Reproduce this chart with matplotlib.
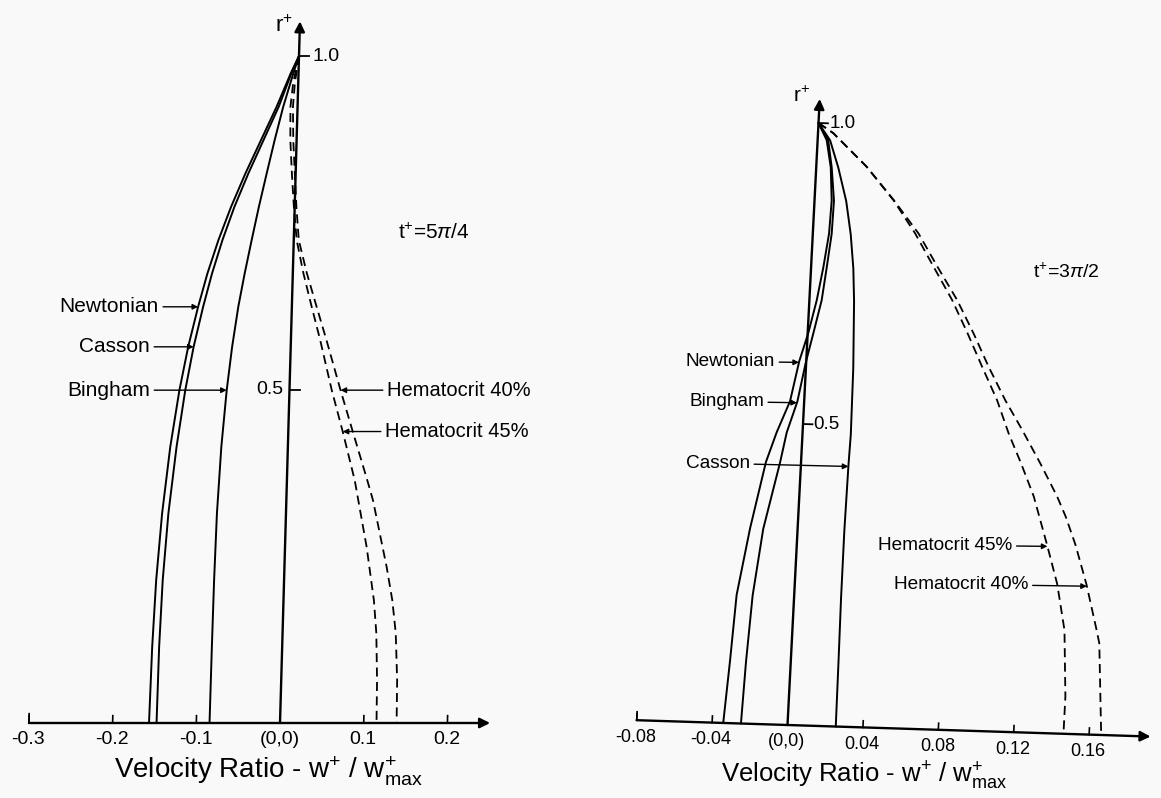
import numpy as np
import matplotlib.pyplot as plt
from matplotlib.transforms import Affine2D

plt.rcParams['font.family'] = ['Liberation Sans', 'DejaVu Sans']
plt.rcParams['mathtext.fontset'] = 'custom'
plt.rcParams['mathtext.rm'] = 'Liberation Sans'
plt.rcParams['mathtext.it'] = 'Liberation Sans:italic'
plt.rcParams['mathtext.bf'] = 'Liberation Sans:bold'

# ---- left panel, t+ = 5pi/4 : r+ against w+/w+max ----
r_newt_L = [1.0, 0.974, 0.924, 0.874, 0.824, 0.774, 0.724, 0.674, 0.624, 0.564, 0.499, 0.414, 0.314, 0.214, 0.114, 0.0]
w_newt_L = [0.0, -0.0093, -0.0250, -0.0425, -0.0600, -0.0760, -0.0900, -0.1020, -0.1120, -0.1225, -0.1315, -0.1405, -0.1480, -0.1528, -0.1553, -0.1565]
r_cass_L = [1.0, 0.974, 0.924, 0.874, 0.824, 0.774, 0.724, 0.674, 0.624, 0.564, 0.499, 0.414, 0.314, 0.214, 0.114, 0.0]
w_cass_L = [0.0, -0.0085, -0.0225, -0.0395, -0.0565, -0.0720, -0.0852, -0.0965, -0.1060, -0.1160, -0.1245, -0.1330, -0.1405, -0.1450, -0.1470, -0.1475]
r_bing_L = [1.0, 0.974, 0.924, 0.874, 0.824, 0.774, 0.724, 0.674, 0.624, 0.564, 0.499, 0.414, 0.314, 0.214, 0.114, 0.0]
w_bing_L = [0.0, -0.0062, -0.0171, -0.0262, -0.0346, -0.0428, -0.0503, -0.0575, -0.0640, -0.0700, -0.0750, -0.0795, -0.0825, -0.0836, -0.0840, -0.0842]
r_h45_L = [1.0, 0.96, 0.924, 0.874, 0.824, 0.774, 0.724, 0.675, 0.624, 0.574, 0.499, 0.437, 0.364, 0.264, 0.184, 0.135, 0.064, 0.0]
w_h45_L = [0.0, -0.0060, -0.0085, -0.0075, -0.0045, -0.0010, 0.0035, 0.0125, 0.0237, 0.0350, 0.0505, 0.0650, 0.0810, 0.0975, 0.1080, 0.1120, 0.1145, 0.1153]
r_h40_L = [1.0, 0.96, 0.924, 0.874, 0.824, 0.774, 0.724, 0.675, 0.624, 0.574, 0.499, 0.437, 0.364, 0.334, 0.234, 0.184, 0.135, 0.064, 0.0]
w_h40_L = [0.0, -0.0040, -0.0055, -0.0040, -0.0010, 0.0020, 0.0060, 0.0166, 0.0296, 0.0425, 0.0610, 0.0770, 0.0960, 0.1035, 0.1221, 0.1300, 0.1352, 0.1385, 0.1393]
xticks_L = [-0.3, -0.2, -0.1, 0.1, 0.2]
xlabels_L = ['-0.3', '-0.2', '-0.1', '0.1', '0.2']

# ---- right panel, t+ = 3pi/2 ----
r_newt_R = [1.0, 0.972, 0.927, 0.872, 0.817, 0.761, 0.706, 0.651, 0.604, 0.537, 0.485, 0.435, 0.324, 0.213, 0.103, 0.0]
w_newt_R = [0.0, 0.0048, 0.0077, 0.0091, 0.0086, 0.0065, 0.0039, 0.0003, -0.0037, -0.0075, -0.0137, -0.0186, -0.0252, -0.0305, -0.0322, -0.0341]
r_bing_R = [1.0, 0.972, 0.927, 0.872, 0.817, 0.761, 0.706, 0.651, 0.604, 0.537, 0.485, 0.435, 0.324, 0.213, 0.103, 0.0]
w_bing_R = [0.0, 0.0056, 0.0082, 0.0103, 0.0100, 0.0083, 0.0065, 0.0030, -0.0001, -0.0036, -0.0084, -0.0111, -0.0182, -0.0220, -0.0237, -0.0247]
r_cass_R = [1.0, 0.972, 0.927, 0.872, 0.817, 0.761, 0.706, 0.595, 0.485, 0.435, 0.324, 0.213, 0.103, 0.0]
w_cass_R = [0.0, 0.0066, 0.0117, 0.0168, 0.0201, 0.0224, 0.0237, 0.0251, 0.0256, 0.0252, 0.0248, 0.0249, 0.0253, 0.0256]
r_h45_R = [1.0, 0.984, 0.930, 0.876, 0.822, 0.768, 0.714, 0.659, 0.605, 0.550, 0.495, 0.446, 0.392, 0.312, 0.248, 0.172, 0.062, 0.0]
w_h45_R = [0.0, 0.0081, 0.0267, 0.0418, 0.0542, 0.0648, 0.0755, 0.0847, 0.0932, 0.1021, 0.1092, 0.1166, 0.1242, 0.1326, 0.1390, 0.1441, 0.1464, 0.1464]
r_h40_R = [1.0, 0.984, 0.930, 0.876, 0.822, 0.768, 0.714, 0.659, 0.605, 0.550, 0.502, 0.447, 0.393, 0.360, 0.314, 0.249, 0.174, 0.152, 0.0]
w_h40_R = [0.0, 0.0081, 0.0267, 0.0420, 0.0560, 0.0669, 0.0782, 0.0879, 0.0967, 0.1065, 0.1162, 0.1268, 0.1366, 0.1417, 0.1476, 0.1545, 0.1611, 0.1629, 0.1664]
xticks_R = [-0.08, -0.04, 0.04, 0.08, 0.12, 0.16]
xlabels_R = ['-0.08', '-0.04', '0.04', '0.08', '0.12', '0.16']

xlabel_txt = r'Velocity Ratio - w$^{+}$ / w$^{+}_{\rm max}$'
solid = dict(color='k', lw=1.4, ls='-', solid_capstyle='round', solid_joinstyle='round')
dashed = dict(color='k', lw=1.3, ls=(0, (5, 3)))


def curve_at(r, r_arr, w_arr):
    return np.interp(r, r_arr[::-1], w_arr[::-1])


def label(ax, T, txt, r, w_txt, r_arr, w_arr, fs):
    tip = curve_at(r, r_arr, w_arr)
    ha = 'right' if w_txt < tip else 'left'
    ax.annotate(txt, xy=(tip, r), xycoords=T, xytext=(w_txt, r), textcoords=T,
                ha=ha, va='center', fontsize=fs,
                arrowprops=dict(arrowstyle='-|>', color='k', lw=1.0,
                                mutation_scale=8, shrinkA=1, shrinkB=0))


def axes_frame(ax, T, xmin, xmax, rtop, xticks, xlabels, dx_tick, dr_tick, fs_tick, r_lab):
    arrow = dict(arrowstyle='-|>', color='k', lw=1.7, mutation_scale=15, shrinkA=0, shrinkB=0)
    ax.annotate('', xy=(xmax, 0), xytext=(xmin, 0), xycoords=T, textcoords=T, arrowprops=arrow)
    ax.annotate('', xy=(0, rtop), xytext=(0, 0), xycoords=T, textcoords=T, arrowprops=arrow)
    for xt, xl in zip(xticks, xlabels):
        ax.plot([xt, xt], [0, dr_tick], transform=T, color='k', lw=1.2)
        ax.text(xt, r_lab, xl, transform=T, ha='center', va='center', fontsize=fs_tick)
    ax.text(0, r_lab, '(0,0)', transform=T, ha='center', va='center', fontsize=fs_tick)
    for rt in [0.5, 1.0]:
        ax.plot([0, dx_tick], [rt, rt], transform=T, color='k', lw=1.3)


fig = plt.figure(figsize=(11.61, 7.98), dpi=100)
fig.patch.set_facecolor('#f9f9f9')

# ---------------- left ----------------
axL = fig.add_axes([0, 0, 580 / 1161, 1])
axL.set_xlim(-0.33453, 0.35842)
axL.set_ylim(-0.11244, 1.08396)
axL.axis('off')
TL = Affine2D(np.array([[1, 0.0227, 0], [0, 1, 0], [0, 0, 1]])) + axL.transData

axL.plot(w_newt_L, r_newt_L, transform=TL, **solid)
axL.plot(w_cass_L, r_cass_L, transform=TL, **solid)
axL.plot(w_bing_L, r_bing_L, transform=TL, **solid)
axL.plot(w_h45_L, r_h45_L, transform=TL, **dashed)
axL.plot(w_h40_L, r_h40_L, transform=TL, **dashed)

axes_frame(axL, TL, -0.3, 0.251, 1.052, xticks_L, xlabels_L, 0.012, 0.011, 14, -0.025)
axL.plot([-0.3, -0.3], [0, 0.014], transform=TL, color='k', lw=1.2)
axL.text(-0.008, 1.045, r'r$^{+}$', transform=TL, ha='right', va='center', fontsize=16)
axL.text(0.0167, 1.0, '1.0', transform=TL, ha='left', va='center', fontsize=14)
axL.text(-0.0077, 0.5, '0.5', transform=TL, ha='right', va='center', fontsize=14)
axL.text(-0.012, -0.0825, xlabel_txt, transform=TL, ha='center', va='baseline', fontsize=20)
axL.text(0.167, 0.735, r't$^{+}$=5$\pi$/4', transform=TL, ha='center', va='center', fontsize=15)

label(axL, TL, 'Newtonian', 0.624, -0.1588, r_newt_L, w_newt_L, 15)
label(axL, TL, 'Casson', 0.564, -0.1681, r_cass_L, w_cass_L, 15)
label(axL, TL, 'Bingham', 0.499, -0.1666, r_bing_L, w_bing_L, 15)
label(axL, TL, 'Hematocrit 40%', 0.499, 0.1165, r_h40_L, w_h40_L, 14.5)
label(axL, TL, 'Hematocrit 45%', 0.437, 0.1155, r_h45_L, w_h45_L, 14.5)

# ---------------- right ----------------
axR = fig.add_axes([580 / 1161, 0, 581 / 1161, 1])
axR.set_xlim(-0.11008, 0.19814)
axR.set_ylim(-0.12126, 1.20432)
axR.axis('off')
TR = Affine2D(np.array([[1, 0.01645, 0], [-0.0997, 1, 0], [0, 0, 1]])) + axR.transData

axR.plot(w_newt_R, r_newt_R, transform=TR, **solid)
axR.plot(w_bing_R, r_bing_R, transform=TR, **solid)
axR.plot(w_cass_R, r_cass_R, transform=TR, **solid)
axR.plot(w_h45_R, r_h45_R, transform=TR, **dashed)
axR.plot(w_h40_R, r_h40_R, transform=TR, **dashed)

axes_frame(axR, TR, -0.08, 0.1926, 1.04, xticks_R, xlabels_R, 0.005, 0.011, 13, -0.028)
axR.plot([-0.08, -0.08], [0, 0.014], transform=TR, color='k', lw=1.2)
axR.text(-0.005, 1.045, r'r$^{+}$', transform=TR, ha='right', va='center', fontsize=15)
axR.text(0.0061, 1.0, '1.0', transform=TR, ha='left', va='center', fontsize=13.5)
axR.text(0.0053, 0.5, '0.5', transform=TR, ha='left', va='center', fontsize=13.5)
axR.text(0.0424, -0.0905, xlabel_txt, transform=TR, ha='center', va='baseline', fontsize=18.5)
axR.text(0.1353, 0.7665, r't$^{+}$=3$\pi$/2', transform=TR, ha='center', va='center', fontsize=14)

label(axR, TR, 'Newtonian', 0.602, -0.0165, r_newt_R, w_newt_R, 13.7)
label(axR, TR, 'Bingham', 0.535, -0.0213, r_bing_R, w_bing_R, 13.7)
label(axR, TR, 'Casson', 0.432, -0.0270, r_cass_R, w_cass_R, 13.7)
label(axR, TR, 'Hematocrit 45%', 0.310, 0.1142, r_h45_R, w_h45_R, 13.7)
label(axR, TR, 'Hematocrit 40%', 0.246, 0.1238, r_h40_R, w_h40_R, 13.7)

fig.savefig('out.png', dpi=100, facecolor=fig.get_facecolor())
